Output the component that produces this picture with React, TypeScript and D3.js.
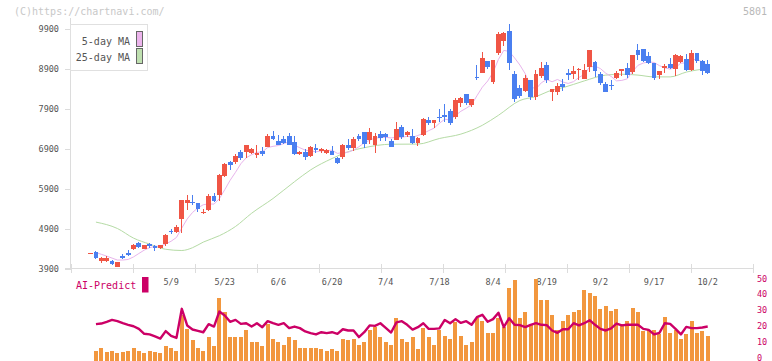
import * as d3 from 'd3';

// candle k = 0..115 (k0 is the lone doji before the first volume bar)
const open = [
  4300, 4315, 4090, 4095, 4100, 3940, 4215, 4290, 4385, 4550, 4385, 4505, 4475, 4410, 4525, 4840,
  4815, 5140, 5540, 5565, 5530, 5295, 5360, 5705, 5735, 6215, 6555, 6557, 6807, 6810, 6785, 6740,
  6840, 6940, 7207, 7080, 7130, 7205, 7055, 6757, 6815, 6707, 6925, 6832, 6790, 6840, 6665, 6690,
  7000, 6925, 7215, 7307, 7125, 7000, 7257, 7275, 7080, 7125, 7440, 7232, 7207, 7040, 7232, 7607,
  7540, 7690, 7730, 7840, 7690, 8040, 8257, 8000, 8700, 8782, 9090, 8557, 9300, 9590, 9840, 8757,
  8425, 8340, 8615, 8182, 8725, 8990, 8325, 8307, 8525, 8790, 8757, 8875, 8650, 8940, 9065, 8775,
  8507, 8480, 8665, 8840, 8915, 8815, 9357, 9400, 9207, 9032, 8750, 8915, 9025, 8900, 9065, 9132,
  8857, 9300, 9082, 9007,
];
const high = [
  4300, 4340, 4200, 4210, 4110, 4060, 4275, 4360, 4505, 4565, 4490, 4540, 4500, 4500, 4760, 4890,
  4982, 5625, 5730, 5730, 5535, 5400, 5757, 5790, 6257, 6540, 6590, 6757, 6857, 6985, 6925, 6980,
  6940, 7275, 7350, 7230, 7210, 7290, 7205, 6850, 6900, 6965, 7007, 6907, 6880, 6957, 6690, 7007,
  7150, 7180, 7275, 7307, 7425, 7290, 7340, 7300, 7150, 7565, 7490, 7340, 7382, 7180, 7665, 7690,
  7625, 7900, 8007, 7890, 8157, 8190, 8257, 8132, 8990, 9307, 9090, 9115, 9807, 9825, 10015, 8850,
  8490, 8740, 8615, 8865, 9057, 9075, 8390, 8550, 8650, 8900, 8965, 8925, 9025, 9357, 9090, 8815,
  8565, 8607, 8832, 8900, 9050, 9232, 9525, 9400, 9315, 9032, 8832, 9025, 9175, 9275, 9240, 9275,
  9357, 9300, 9107, 9107,
];
const low = [
  4300, 4140, 4040, 4060, 3980, 3940, 4140, 4205, 4360, 4415, 4380, 4425, 4340, 4380, 4460, 4760,
  4790, 4790, 5360, 5480, 5315, 5255, 5330, 5555, 5580, 6190, 6360, 6525, 6625, 6660, 6757, 6665,
  6725, 6940, 7107, 6980, 7010, 6990, 6740, 6735, 6607, 6690, 6800, 6800, 6770, 6732, 6525, 6640,
  6857, 6850, 7090, 6910, 7025, 6790, 7080, 7100, 6940, 7107, 7150, 7190, 7007, 6957, 7225, 7480,
  7415, 7565, 7560, 7490, 7640, 7940, 8000, 7950, 8615, 8782, 8882, 8515, 9250, 9465, 8865, 8075,
  8157, 8307, 8115, 8115, 8675, 8550, 8090, 8240, 8332, 8607, 8632, 8625, 8632, 8815, 8690, 8500,
  8315, 8357, 8650, 8715, 8675, 8775, 9107, 9065, 9025, 8625, 8650, 8800, 8882, 8715, 9040, 8832,
  8840, 9050, 8732, 8765,
];
const close = [
  4300, 4165, 4160, 4165, 4010, 4057, 4165, 4235, 4480, 4440, 4480, 4460, 4425, 4480, 4730, 4810,
  4932, 5607, 5607, 5550, 5385, 5320, 5707, 5585, 6232, 6507, 6490, 6707, 6657, 6982, 6885, 6790,
  6757, 7207, 7132, 6985, 7035, 6990, 6765, 6815, 6690, 6940, 6875, 6882, 6857, 6732, 6540, 6982,
  6925, 7132, 7140, 7025, 7307, 7207, 7175, 7190, 6940, 7400, 7190, 7315, 7050, 7175, 7650, 7540,
  7625, 7660, 7690, 7540, 8107, 8157, 8040, 8132, 8660, 9175, 8932, 9115, 9757, 9790, 9032, 8140,
  8215, 8657, 8182, 8757, 8907, 8615, 8382, 8465, 8440, 8732, 8840, 8900, 8857, 9357, 8840, 8540,
  8315, 8460, 8800, 8900, 8732, 9232, 9232, 9090, 9040, 8665, 8832, 8957, 8925, 9250, 9207, 8857,
  9300, 9082, 8840, 8790,
];

// 5-day MA before enough closes exist (k1..k3)
const ma5Head = [4300, 4255, 4210];

// 25-day MA read at these candles
const ma25At = [1, 5, 8, 11, 14, 17, 19, 21, 24, 27, 30, 34, 38, 41, 45, 48, 51, 56, 61, 65, 69, 73, 76, 80, 83, 86, 88, 92, 96, 99, 102, 105, 108, 111, 115];
const ma25Val = [5060, 4900, 4660, 4510, 4380, 4350, 4420, 4560, 4720, 4950, 5280, 5650, 6070, 6365, 6650, 6820, 6920, 7007, 7010, 7150, 7260, 7480, 7730, 8100, 8200, 8360, 8420, 8590, 8735, 8757, 8735, 8690, 8690, 8810, 8900];

// volume (scaled to the 0-50 panel) and AI-Predict, k1..k115
const volume = [
  null, 4.0, 6.3, 3.4, 3.8, 2.7, 3.4, 3.8, 5.7, 4.4, 2.7, 4.4, 3.4, 2.7, 7.0, 6.3,
  4.4, 26.6, 18.2, 10.8, 5.7, 4.0, 12.9, 7.0, 37.5, 28.7, 12.9, 12.9, 12.9, 17.1, 10.1, 9.5,
  7.0, 21.1, 11.4, 9.5, 8.2, 12.7, 10.8, 6.3, 6.3, 6.3, 5.7, 5.1, 3.8, 5.1, 4.4, 12.0,
  10.8, 12.0, 8.2, 9.5, 17.7, 19.0, 12.7, 10.1, 8.2, 24.7, 12.0, 10.1, 12.7, 5.1, 18.4, 12.7,
  7.6, 17.7, 13.3, 12.0, 22.2, 13.9, 8.2, 10.1, 24.7, 22.8, 15.8, 15.2, 24.9, 19.6, 44.3, 49.0,
  25.3, 29.1, 20.9, 49.5, 36.7, 36.1, 26.8, 17.1, 22.8, 26.6, 28.5, 30.0, 43.0, 41.1, 39.2, 31.0,
  32.5, 29.7, 30.4, 20.9, 23.4, 31.6, 29.1, 16.5, 17.7, 17.1, 14.6, 25.9, 15.2, 17.1, 12.0, 14.6,
  22.8, 15.8, 16.5, 13.9,
];
const aiPredict = [
  null, 21.1, 21.5, 22.6, 23.8, 23.0, 21.7, 20.7, 19.8, 18.1, 15.0, 14.6, 13.3, 12.0, 16.7, 13.7,
  12.4, 30.8, 20.3, 17.7, 16.9, 16.0, 21.1, 19.6, 29.1, 26.6, 22.6, 23.8, 21.3, 21.7, 19.6, 21.7,
  19.2, 23.0, 21.7, 20.7, 21.7, 18.6, 19.6, 18.6, 16.5, 15.4, 14.6, 16.0, 15.4, 16.0, 15.0, 17.9,
  17.1, 17.1, 12.9, 16.0, 20.3, 20.0, 21.7, 18.8, 15.8, 22.2, 23.0, 20.7, 17.7, 19.2, 21.7, 18.1,
  18.1, 18.4, 23.8, 21.7, 24.3, 21.9, 23.0, 20.7, 25.5, 27.0, 22.6, 24.3, 28.3, 19.2, 24.9, 20.7,
  20.5, 19.2, 20.7, 21.7, 20.7, 20.5, 17.1, 15.6, 17.9, 17.9, 21.7, 20.3, 21.7, 23.6, 20.7, 18.1,
  17.1, 18.4, 21.5, 20.3, 20.7, 20.7, 20.7, 18.1, 17.5, 14.6, 15.6, 21.7, 21.3, 18.1, 14.6, 19.4,
  18.6, 18.6, 19.0, 19.6,
];

const dateLabels = ['5/9', '5/23', '6/6', '6/20', '7/4', '7/18', '8/4', '8/19', '9/2', '9/17', '10/2'];
const dateAt = [15, 25, 35, 45, 55, 65, 75, 85, 95, 105, 115];
const priceTicks = [3900, 4900, 5900, 6900, 7900, 8900, 9900];
const aiTicks = [0, 10, 20, 30, 40, 50];

const FONT = '"DejaVu Sans Mono", "Liberation Mono", monospace';
const UP = '#f05545';
const DOWN = '#4a7ff0';
const AI = '#cc0066';

export default function App() {
  const idx = d3.range(close.length);
  const x = d3.scaleBand<number>().domain(idx).range([87.9, 710.4]);
  const cx = (i: number) => (x(i) ?? 0) + x.bandwidth() / 2;
  const y = d3.scaleLinear().domain([3900, 9900]).range([268.5, 28.5]);
  const yAi = d3.scaleLinear().domain([0, 50]).range([357.5, 278.5]);
  const gridX = d3.scaleLinear().domain([0, 11]).range([71, 753]);

  const ma5 = idx.map((i) =>
    i >= 4 ? (d3.mean(close.slice(i - 4, i + 1)) as number) : i >= 1 ? ma5Head[i - 1] : null
  );

  const priceLine = d3
    .line<[number, number | null]>()
    .defined((d) => d[1] != null)
    .x((d) => cx(d[0]))
    .y((d) => y(d[1] as number));
  const ma25Line = d3
    .line<number>()
    .x((_, j) => cx(ma25At[j]))
    .y((d) => y(d))
    .curve(d3.curveMonotoneX);
  const aiLine = d3
    .line<[number, number | null]>()
    .defined((d) => d[1] != null)
    .x((d) => cx(d[0]))
    .y((d) => yAi(d[1] as number));

  return (
    <svg
      width={772}
      height={361}
      style={{ position: 'fixed', left: 0, top: 0, background: '#fff' }}
      fontFamily={FONT}
    >
      <text x={14} y={15} fontSize={10} fill="#c8c8c8">(C)https://chartnavi.com/</text>
      <text x={767} y={15} fontSize={10} fill="#b8b8b8" textAnchor="end">5801</text>

      {/* axes */}
      <g stroke="#dcdcdc" strokeWidth={1} shapeRendering="crispEdges">
        <line x1={70.5} x2={70.5} y1={18} y2={268.5} />
        <line x1={65} x2={753} y1={268.5} y2={268.5} />
        {priceTicks.map((t) => (
          <line key={t} x1={65} x2={70.5} y1={Math.round(y(t)) + 0.5} y2={Math.round(y(t)) + 0.5} />
        ))}
        {d3.range(12).map((j) => (
          <line key={j} x1={Math.round(gridX(j)) + 0.5} x2={Math.round(gridX(j)) + 0.5} y1={264} y2={273} />
        ))}
      </g>
      {priceTicks.map((t) => (
        <text key={t} x={59} y={y(t) + 3} fontSize={8.5} fill="#555" textAnchor="end">{t}</text>
      ))}
      {dateLabels.map((d, j) => (
        <text key={d} x={cx(dateAt[j])} y={285} fontSize={8.5} fill="#555" textAnchor="middle">{d}</text>
      ))}

      {/* moving averages */}
      <path d={ma25Line(ma25Val) ?? ''} fill="none" stroke="#b5dba5" strokeWidth={1} />
      <path d={priceLine(idx.map((i) => [i, ma5[i]] as [number, number | null])) ?? ''} fill="none" stroke="#e8b4ec" strokeWidth={1} />

      {/* candles */}
      {idx.map((i) => {
        const o = open[i], c = close[i];
        const col = c >= o ? UP : DOWN;
        const top = y(Math.max(o, c));
        const h = Math.max(1, Math.abs(y(o) - y(c)));
        const wx = Math.floor(cx(i)) + 0.5;
        return (
          <g key={i} shapeRendering="crispEdges">
            <line x1={wx} x2={wx} y1={y(high[i])} y2={y(low[i])} stroke={col} strokeWidth={1} />
            <rect x={cx(i) - 2.4} y={top} width={4.8} height={h} fill={col} />
          </g>
        );
      })}

      {/* legend */}
      <rect x={70.5} y={24.5} width={77} height={46} fill="#fff" stroke="#e0e0e0" />
      <text x={130} y={45} fontSize={10} fill="#555" textAnchor="end">5-day MA</text>
      <rect x={136.5} y={31.5} width={6} height={15} fill="#ecb4ec" stroke="#666" />
      <text x={130} y={61} fontSize={10} fill="#555" textAnchor="end">25-day MA</text>
      <rect x={136.5} y={48.5} width={6} height={15} fill="#bfe0b0" stroke="#666" />

      {/* AI-Predict panel */}
      <text x={76} y={289} fontSize={10} fill={AI}>AI-Predict</text>
      <rect x={142} y={277} width={6.5} height={15.5} fill={AI} />
      {idx.map((i) =>
        volume[i] == null ? null : (
          <rect
            key={i}
            x={cx(i) - 2}
            y={yAi(volume[i] as number)}
            width={4}
            height={361 - yAi(volume[i] as number)}
            fill="#f2973e"
            shapeRendering="crispEdges"
          />
        )
      )}
      <path
        d={aiLine(idx.map((i) => [i, aiPredict[i]] as [number, number | null])) ?? ''}
        fill="none"
        stroke={AI}
        strokeWidth={2.4}
        strokeLinejoin="round"
      />
      {aiTicks.map((t) => (
        <text key={t} x={757} y={yAi(t) + 3} fontSize={8.5} fill={AI}>{t}</text>
      ))}
    </svg>
  );
}
